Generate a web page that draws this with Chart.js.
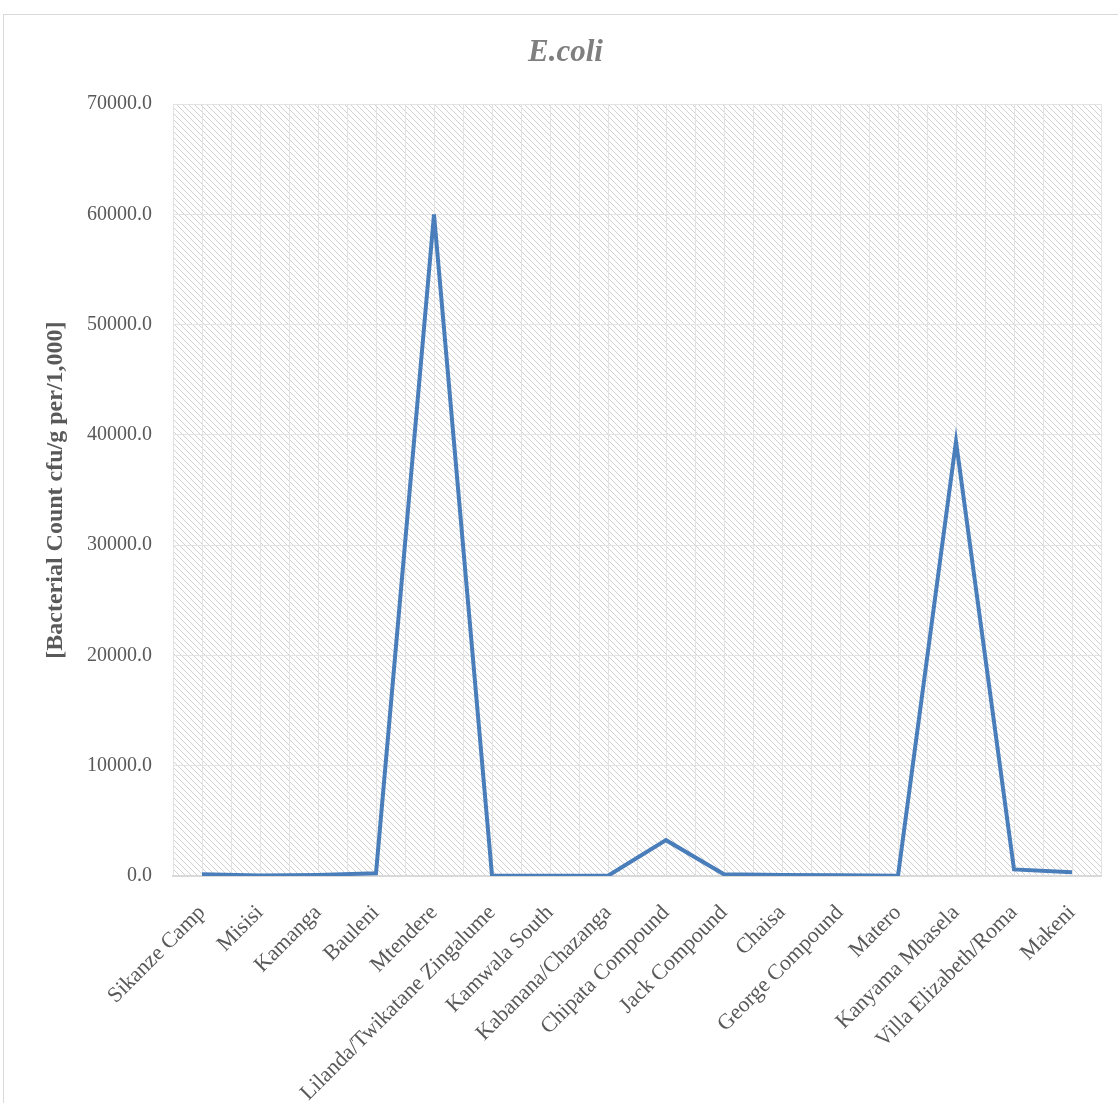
<!DOCTYPE html>
<html><head><meta charset="utf-8">
<script src="https://cdn.jsdelivr.net/npm/chart.js@4"></script>
<style>
html,body{margin:0;padding:0;background:#fff;overflow:hidden;}
#wrap{position:absolute;left:0;top:0;width:1118px;height:1103px;}
#frame{position:absolute;left:3px;top:14px;width:1130px;height:1110px;border:1px solid #d9d9d9;box-sizing:border-box;}
canvas{position:absolute;left:0;top:0;}
</style></head><body>
<div id="wrap"><div id="frame"></div><canvas id="c" width="1118" height="1103"></canvas></div>
<script>
const categories = ["Sikanze Camp","Misisi","Kamanga","Bauleni","Mtendere","Lilanda/Twikatane Zingalume","Kamwala South","Kabanana/Chazanga","Chipata Compound","Jack Compound","Chaisa","George Compound","Matero","Kanyama Mbasela","Villa Elizabeth/Roma","Makeni"];
const ecoliValues = [150, 50, 100, 250, 60000, 50, 30, 20, 3250, 150, 100, 60, 20, 39400, 600, 330];
const yTicks = {min: 0, max: 70000, step: 10000};
const chartTitle = "E.coli";
const yTitle = "[Bacterial Count cfu/g per/1,000]";

const FONT = "'Liberation Serif', 'Times New Roman', serif";

function makePattern() {
  const c = document.createElement('canvas');
  c.width = 6; c.height = 6;
  const g = c.getContext('2d');
  g.fillStyle = '#ffffff';
  g.fillRect(0,0,6,6);
  g.fillStyle = '#d2d2d2';
  for (let i = 0; i < 6; i++) g.fillRect(i, i, 1, 1);
  return g.createPattern(c, 'repeat');
}

const hatchPlugin = {
  id: 'hatch',
  beforeDraw(chart) {
    const {ctx, chartArea: a} = chart;
    ctx.save();
    ctx.fillStyle = makePattern();
    ctx.fillRect(a.left, a.top, a.right - a.left, a.bottom - a.top);
    ctx.restore();
  }
};

const PAD_L = 30, PAD_R = 17, PAD_B = 0;

new Chart(document.getElementById('c'), {
  type: 'line',
  data: {
    labels: categories,
    datasets: [{
      data: ecoliValues,
      borderColor: '#4a7ebb',
      borderWidth: 4,
      pointRadius: 0,
      tension: 0,
      fill: false,
      xAxisID: 'x',
      yAxisID: 'y'
    }]
  },
  options: {
    responsive: false,
    animation: false,
    layout: {padding: {left: PAD_L, right: PAD_R, top: 22, bottom: PAD_B}},
    plugins: {
      legend: {display: false},
      tooltip: {enabled: false},
      title: {
        display: true, text: chartTitle, color: '#7f7f7f',
        font: {family: FONT, size: 31, weight: 'bold', style: 'italic'},
        padding: {top: 12, bottom: 33}
      }
    },
    scales: {
      x: {
        type: 'category',
        position: 'bottom',
        offset: true,
        grid: {offset: true, color: '#e3e3e3', lineWidth: 1, drawTicks: false},
        border: {color: '#d9d9d9', width: 2},
        ticks: {
          font: {family: FONT, size: 22}, color: '#595959',
          maxRotation: 45, minRotation: 45, autoSkip: false, padding: 24
        },
        afterFit(s) { s.height = 1103 - 876 - PAD_B; }
      },
      x2: {
        type: 'category',
        position: 'top',
        offset: true,
        labels: categories,
        grid: {offset: false, color: '#e3e3e3', lineWidth: 1, drawTicks: false},
        border: {display: false},
        ticks: {display: false},
        afterFit(s) { s.height = 0; }
      },
      y: {
        min: yTicks.min, max: yTicks.max,
        ticks: {
          stepSize: yTicks.step,
          font: {family: FONT, size: 20}, color: '#595959', padding: 21,
          callback: v => Number(v).toFixed(1)
        },
        grid: {color: '#e3e3e3', lineWidth: 1, drawTicks: false},
        border: {display: false},
        title: {
          display: true, text: yTitle, color: '#595959',
          font: {family: FONT, size: 24, weight: 'bold'},
          padding: {top: 11, bottom: 0}
        },
        afterFit(s) { s.width = 173 - PAD_L; }
      }
    }
  },
  plugins: [hatchPlugin]
});
</script>
</body></html>
